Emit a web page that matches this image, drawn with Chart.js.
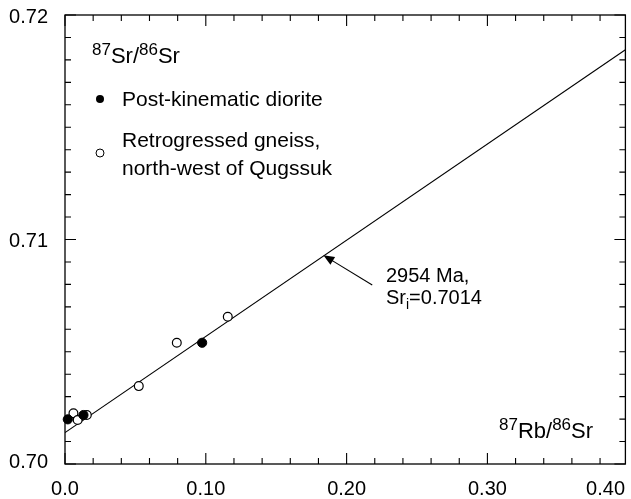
<!DOCTYPE html>
<html>
<head>
<meta charset="utf-8">
<script src="https://cdn.jsdelivr.net/npm/chart.js@4.4.1/dist/chart.umd.min.js"></script>
<style>
  html, body { margin: 0; padding: 0; background: #fff; }
  #wrap { width: 631px; height: 499px; }
</style>
</head>
<body>
<div id="wrap"><canvas id="isochron"></canvas></div>
<script>
// values
const dioriteX = [0.002, 0.0131, 0.0974];
const dioriteY = [0.70199, 0.70218, 0.70540];
const gneissX = [0.006, 0.009, 0.0155, 0.0524, 0.0794, 0.1156];
const gneissY = [0.70226, 0.70196, 0.70218, 0.70347, 0.70540, 0.70656];
const isochronX = [0, 0.398];
const isochronY = [0.7014, 0.71845];

const xTickValues = [0, 0.1, 0.2, 0.3, 0.4];
const xTickLabels = ['0.0', '0.10', '0.20', '0.30', '0.40'];
const yTickValues = [0.70, 0.71, 0.72];
const yTickLabels = ['0.70', '0.71', '0.72'];

const FONT = '"Liberation Sans", Arial, Helvetica, sans-serif';

const toPoints = (xs, ys) => xs.map((x, i) => ({ x: x, y: ys[i] }));

// text runs with super/subscripts: [text, 'n' | 'sup' | 'sub']
function drawRuns(ctx, runs, x, y, size, small) {
    runs.forEach(([t, kind]) => {
        const s = kind === 'n' ? size : (small || Math.round(size * 0.68));
        const dy = kind === 'sup' ? -Math.round(size * 0.38) : kind === 'sub' ? Math.round(size * 0.25) : 0;
        ctx.font = s + 'px ' + FONT;
        ctx.fillText(t, x, y + dy);
        x += ctx.measureText(t).width;
    });
}

const framePlugin = {
    id: 'frame',
    beforeDatasetsDraw(chart) {
        const { ctx, chartArea: a, scales: { x, y } } = chart;
        ctx.save();
        ctx.strokeStyle = '#000';
        ctx.lineWidth = 1.3;
        ctx.strokeRect(a.left, a.top, a.right - a.left, a.bottom - a.top);

        ctx.lineWidth = 1.1;
        ctx.beginPath();
        for (let i = 0; i * 0.02 <= x.max + 1e-9; i++) {
            const px = x.getPixelForValue(i * 0.02);
            const len = i % 5 === 0 ? 11 : 6;
            ctx.moveTo(px, a.bottom); ctx.lineTo(px, a.bottom - len);
            ctx.moveTo(px, a.top); ctx.lineTo(px, a.top + len);
        }
        for (let i = 0; i <= 20; i++) {
            const py = y.getPixelForValue(0.70 + i * 0.001);
            const len = i % 10 === 0 ? 11 : 6;
            ctx.moveTo(a.left, py); ctx.lineTo(a.left + len, py);
            ctx.moveTo(a.right, py); ctx.lineTo(a.right - len, py);
        }
        ctx.stroke();
        ctx.restore();
    },
    afterDraw(chart) {
        const { ctx, chartArea: a, scales: { x, y } } = chart;
        ctx.save();
        ctx.fillStyle = '#000';
        ctx.textBaseline = 'alphabetic';

        // tick labels
        ctx.font = '20px ' + FONT;
        xTickValues.forEach((v, i) => {
            const w = ctx.measureText(xTickLabels[i]).width;
            let cx = x.getPixelForValue(v);
            cx = Math.min(cx, 625 - w / 2);
            ctx.textAlign = 'center';
            ctx.fillText(xTickLabels[i], cx, 495);
        });
        ctx.textAlign = 'right';
        yTickValues.forEach((v, i) => {
            const py = Math.max(23, Math.min(468, y.getPixelForValue(v) + 7));
            ctx.fillText(yTickLabels[i], 48, py);
        });

        // axis titles
        ctx.textAlign = 'left';
        drawRuns(ctx, [['87', 'sup'], ['Sr/', 'n'], ['86', 'sup'], ['Sr', 'n']], 92, 63, 22, 17);
        drawRuns(ctx, [['87', 'sup'], ['Rb/', 'n'], ['86', 'sup'], ['Sr', 'n']], 499, 438, 22, 17);

        // legend
        ctx.beginPath();
        ctx.arc(100, 99, 4, 0, Math.PI * 2);
        ctx.fill();
        ctx.beginPath();
        ctx.arc(100, 153, 4, 0, Math.PI * 2);
        ctx.lineWidth = 1;
        ctx.stroke();
        drawRuns(ctx, [['Post-kinematic diorite', 'n']], 122, 106, 21);
        drawRuns(ctx, [['Retrogressed gneiss,', 'n']], 122, 147, 21);
        drawRuns(ctx, [['north-west of Qugssuk', 'n']], 122, 175, 21);

        // age annotation with arrow to the isochron
        const tipX = x.getPixelForValue(0.1835), tipY = y.getPixelForValue(0.7093);
        const tailX = x.getPixelForValue(0.2182), tailY = y.getPixelForValue(0.70797);
        const ang = Math.atan2(tipY - tailY, tipX - tailX);
        ctx.beginPath();
        ctx.moveTo(tailX, tailY);
        ctx.lineTo(tipX - 8 * Math.cos(ang), tipY - 8 * Math.sin(ang));
        ctx.lineWidth = 1.1;
        ctx.stroke();
        ctx.beginPath();
        ctx.moveTo(tipX, tipY);
        ctx.lineTo(tipX - 11 * Math.cos(ang) + 4.5 * Math.sin(ang), tipY - 11 * Math.sin(ang) - 4.5 * Math.cos(ang));
        ctx.lineTo(tipX - 11 * Math.cos(ang) - 4.5 * Math.sin(ang), tipY - 11 * Math.sin(ang) + 4.5 * Math.cos(ang));
        ctx.closePath();
        ctx.fill();
        drawRuns(ctx, [['2954 Ma,', 'n']], 386, 282, 20);
        drawRuns(ctx, [['Sr', 'n'], ['i', 'sub'], ['=0.7014', 'n']], 386, 304, 20);
        ctx.restore();
    },
};

new Chart(document.getElementById('isochron'), {
    type: 'scatter',
    data: {
        datasets: [
            {
                label: 'Post-kinematic diorite',
                data: toPoints(dioriteX, dioriteY),
                backgroundColor: '#000',
                borderColor: '#000',
                borderWidth: 1,
                pointRadius: 4.6,
                clip: false,
                order: 1,
            },
            {
                label: 'Retrogressed gneiss, north-west of Qugssuk',
                data: toPoints(gneissX, gneissY),
                backgroundColor: '#fff',
                borderColor: '#000',
                borderWidth: 1.2,
                pointRadius: 4.4,
                clip: false,
                order: 2,
            },
            {
                label: 'Isochron',
                data: toPoints(isochronX, isochronY),
                showLine: true,
                borderColor: '#000',
                borderWidth: 1.1,
                pointRadius: 0,
                order: 3,
            },
        ],
    },
    options: {
        responsive: true,
        maintainAspectRatio: false,
        animation: false,
        layout: {
            padding: { left: 65, right: 5, top: 15, bottom: 35 },
        },
        plugins: {
            legend: { display: false },
            tooltip: { enabled: false },
        },
        scales: {
            x: { type: 'linear', display: false, min: 0, max: 0.398 },
            y: { type: 'linear', display: false, min: 0.70, max: 0.72 },
        },
    },
    plugins: [framePlugin],
});
</script>
</body>
</html>
